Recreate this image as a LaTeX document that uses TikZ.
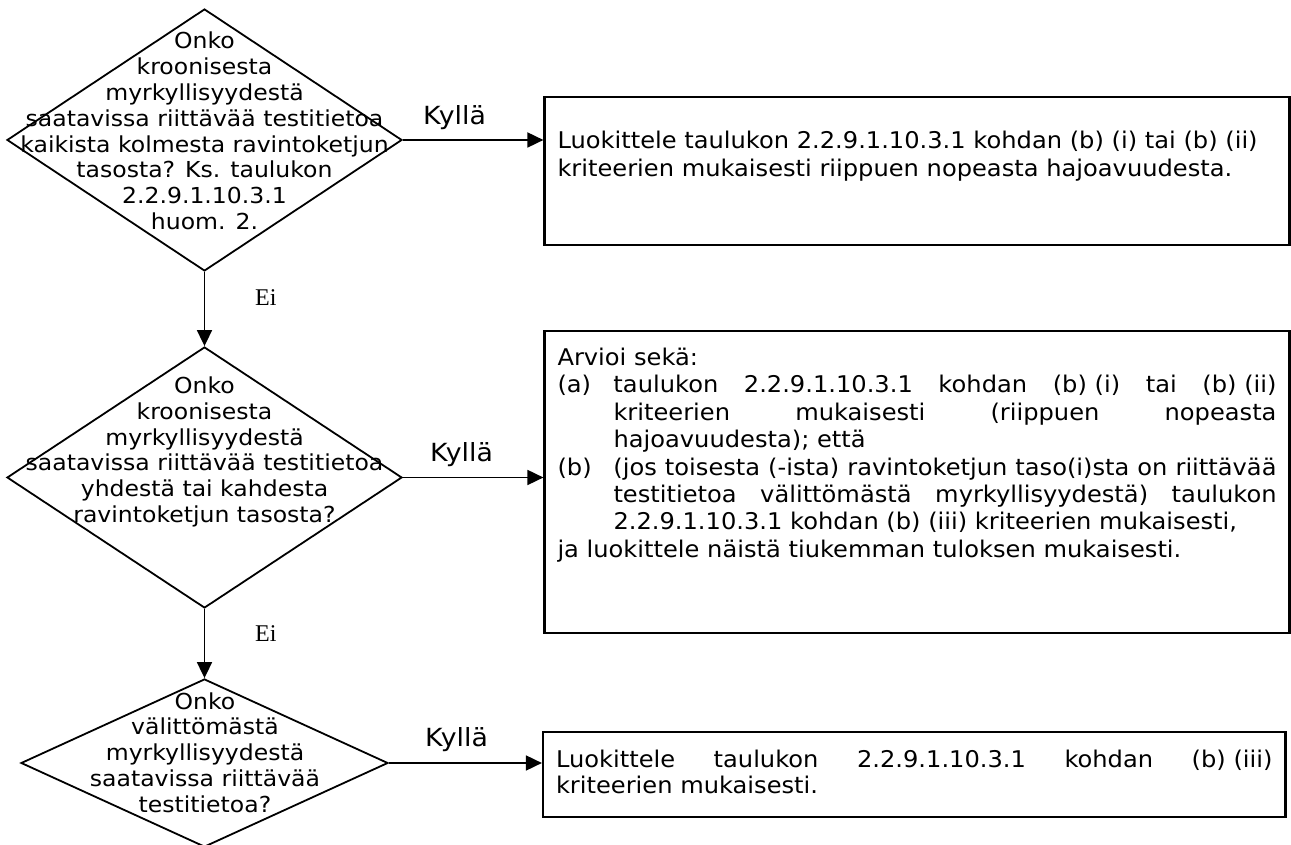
\documentclass[tikz,border=0pt]{standalone}
\usepackage{fontspec}
\usetikzlibrary{shapes.geometric,arrows.meta}
\newfontfamily\qfont{DejaVu Sans}[FakeStretch=1.07]
\newfontfamily\afont{DejaVu Sans}[FakeStretch=1.05]
\newfontfamily\eifont{Liberation Serif}
\begin{document}
\begin{tikzpicture}[>={Triangle[length=16bp,width=15bp]},line join=miter,
  question/.style={draw=black,diamond,inner sep=0pt,line width=1.8bp},
  qtext/.style={font=\qfont\fontsize{22bp}{25.8bp}\selectfont,align=center,inner sep=0pt},
  answer/.style={draw=black,rectangle,line width=2.2bp,inner xsep=13bp,font=\afont\fontsize{23bp}{27.5bp}\selectfont},
  kylla/.style={font=\qfont\fontsize{25bp}{29bp}\selectfont,anchor=base west,inner sep=0pt},
  ei/.style={font=\eifont\fontsize{24bp}{28bp}\selectfont,anchor=base west,inner sep=0pt},
  flow/.style={->,line width=1.8bp}]
%%
\useasboundingbox (0bp,0bp) rectangle (1291bp,845bp);
\node (q1) at (204.5bp,705bp) [question,minimum width=395bp,minimum height=262bp] {};
  \node (q2) at (204.5bp,367.5bp) [question,minimum width=395bp,minimum height=261bp] {};
  \node (q3) at (204.5bp,82bp) [question,minimum width=367bp,minimum height=168bp] {};
  \node (q1_text) at (204.5bp,714bp) [qtext] {Onko\\kroonisesta\\myrkyllisyydestä\\saatavissa riittävää testitietoa\\kaikista kolmesta ravintoketjun\\tasosta? Ks. taulukon\\2.2.9.1.10.3.1\\huom. 2.};
  \node (q2_text) at (204.5bp,393bp) [qtext] {Onko\\kroonisesta\\myrkyllisyydestä\\saatavissa riittävää testitietoa\\yhdestä tai kahdesta\\ravintoketjun tasosta?};
  \node (q3_text) at (205bp,92.5bp) [qtext] {Onko\\välittömästä\\myrkyllisyydestä\\saatavissa riittävää\\testitietoa?};
  \node (b1) at (917bp,674bp) [answer,inner ysep=34bp] {\parbox[t][80bp][t]{719bp}{\baselineskip=28.5bp
    Luokittele taulukon 2.2.9.1.10.3.1 kohdan \mbox{(b) (i)} tai \mbox{(b) (ii)}\\
    kriteerien mukaisesti riippuen nopeasta hajoavuudesta.}};
  \node (b2) at (917bp,363bp) [answer,inner ysep=17bp] {\parbox[t][268bp][t]{719bp}{\baselineskip=27.4bp
    \tolerance=10000 \hbadness=10000 \hyphenpenalty=10000 \exhyphenpenalty=10000
    Arvioi sekä:\par
    \hangindent=56bp\hangafter=1\noindent\makebox[56bp][l]{(a)}taulukon 2.2.9.1.10.3.1 kohdan \mbox{(b) (i)} tai \mbox{(b) (ii)}\linebreak
    kriteerien mukaisesti (riippuen nopeasta\linebreak
    hajoavuudesta); että\par
    \hangindent=56bp\hangafter=1\noindent\makebox[56bp][l]{(b)}(jos toisesta (-ista) ravintoketjun taso(i)sta on riittävää\linebreak
    testitietoa välittömästä myrkyllisyydestä) taulukon\linebreak
    2.2.9.1.10.3.1 kohdan \mbox{(b) (iii)} kriteerien mukaisesti,\par
    ja luokittele näistä tiukemman tuloksen mukaisesti.}};
  \node (b3) at (914.25bp,70.5bp) [answer,inner ysep=18bp] {\parbox[t][49bp][t]{716.5bp}{\baselineskip=26bp
    \tolerance=10000 \hbadness=10000 \hyphenpenalty=10000
    Luokittele taulukon 2.2.9.1.10.3.1 kohdan \mbox{(b) (iii)}\linebreak
    kriteerien mukaisesti.}};
  \node (yes1) at (423bp,720bp) [kylla] {Kyllä};
  \node (yes2) at (430bp,383bp) [kylla] {Kyllä};
  \node (yes3) at (425bp,98bp) [kylla] {Kyllä};
  \node (no1) at (255bp,539bp) [ei] {Ei};
  \node (no2) at (255bp,203bp) [ei] {Ei};
  \draw [flow] (q1.east) -- (q1.east -| b1.west);
  \draw [flow] (q2.east) -- (q2.east -| b2.west);
  \draw [flow] (q3.east) -- (q3.east -| b3.west);
  \draw [flow] (q1.south) -- (q2.north);
  \draw [flow] (q2.south) -- (q3.north);
%
\end{tikzpicture}
\end{document}
